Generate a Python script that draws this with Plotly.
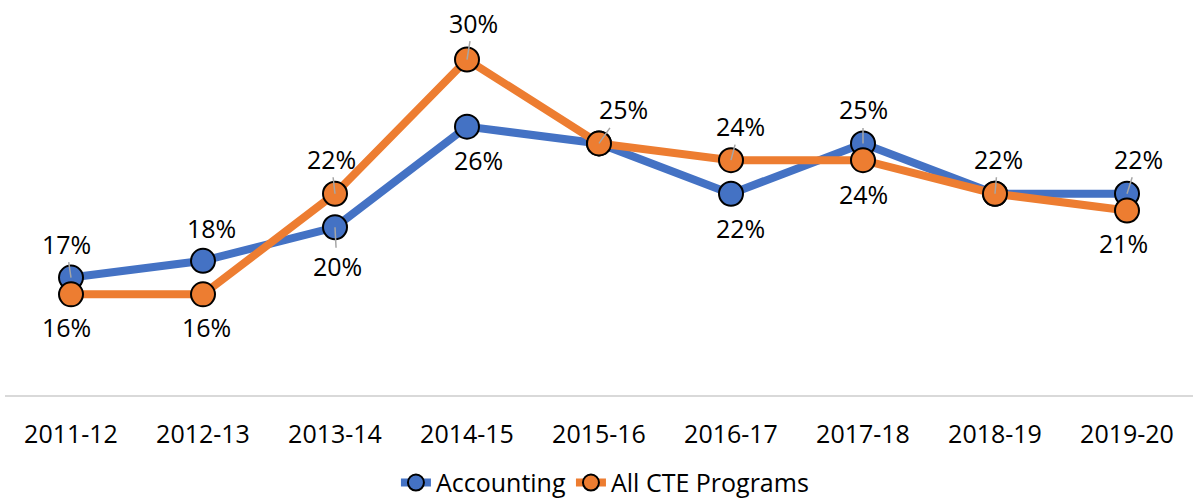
import plotly.graph_objects as go

years = ["2011-12", "2012-13", "2013-14", "2014-15", "2015-16",
         "2016-17", "2017-18", "2018-19", "2019-20"]
accounting = [0.17, 0.18, 0.20, 0.26, 0.25, 0.22, 0.25, 0.22, 0.22]
all_cte = [0.16, 0.16, 0.22, 0.30, 0.25, 0.24, 0.24, 0.22, 0.21]

# label placement (pixel offsets from the point, whether a leader line is drawn)
acc_label_pos = [(-5, -34, True), (8, -33, False), (2, 39, True), (11, 33, False),
                 None, (9, 34, False), (0, -34, True), None, (11, -35, True)]
cte_label_pos = [(-5, 33, False), (3, 33, False), (-4, -35, True), (6, -37, True),
                 (24, -34, True), (9, -34, True), (0, 34, False), (3, -35, True),
                 (-4, 32, False)]

BLUE = "#4472C4"
ORANGE = "#ED7D31"
FONT = "Open Sans"
FS = 25

fig = go.Figure()
fig.add_trace(go.Scatter(
    x=years, y=accounting, name="Accounting", mode="lines+markers",
    line=dict(color=BLUE, width=8),
    marker=dict(size=24, color=BLUE, line=dict(color="black", width=2)),
    hoverinfo="skip"))
fig.add_trace(go.Scatter(
    x=years, y=all_cte, name="All CTE Programs", mode="lines+markers",
    line=dict(color=ORANGE, width=8),
    marker=dict(size=24, color=ORANGE, line=dict(color="black", width=2)),
    hoverinfo="skip"))

annotations = []
for vals, poss in ((accounting, acc_label_pos), (all_cte, cte_label_pos)):
    for i, (v, p) in enumerate(zip(vals, poss)):
        if p is None:
            continue
        dx, dy, leader = p
        txt = f"{round(v * 100)}%"
        if leader:
            annotations.append(dict(
                x=i, y=v, xref="x", yref="y", text=txt, showarrow=True,
                arrowhead=0, arrowwidth=1.5, arrowcolor="#A6A6A6",
                ax=dx, ay=dy, standoff=0,
                font=dict(family=FONT, size=FS, color="black")))
        else:
            annotations.append(dict(
                x=i, y=v, xref="x", yref="y", text=txt, showarrow=False,
                xshift=dx, yshift=-dy,
                font=dict(family=FONT, size=FS, color="black")))

fig.update_layout(
    width=1193, height=502,
    margin=dict(l=5, r=0, t=26, b=107, autoexpand=False),
    paper_bgcolor="white", plot_bgcolor="white",
    font=dict(family=FONT, size=FS, color="black"),
    showlegend=True,
    legend=dict(orientation="h", x=0.505, xanchor="center", y=-0.238,
                yanchor="middle", font=dict(family=FONT, size=FS, color="black")),
    annotations=annotations,
)
fig.update_xaxes(type="category", range=[-0.5, 8.5], showline=True,
                 linecolor="#D9D9D9", linewidth=1.5, showgrid=False,
                 zeroline=False, ticks="outside", ticklen=16,
                 tickcolor="rgba(0,0,0,0)", automargin=False,
                 tickfont=dict(family=FONT, size=FS, color="black"))
fig.update_yaxes(range=[0.10, 0.32], visible=False, showgrid=False,
                 automargin=False)

fig.write_html("out.html",
               config={"displayModeBar": False},
               post_script="document.body.style.margin='0';"
                           "document.body.style.overflow='hidden';")
